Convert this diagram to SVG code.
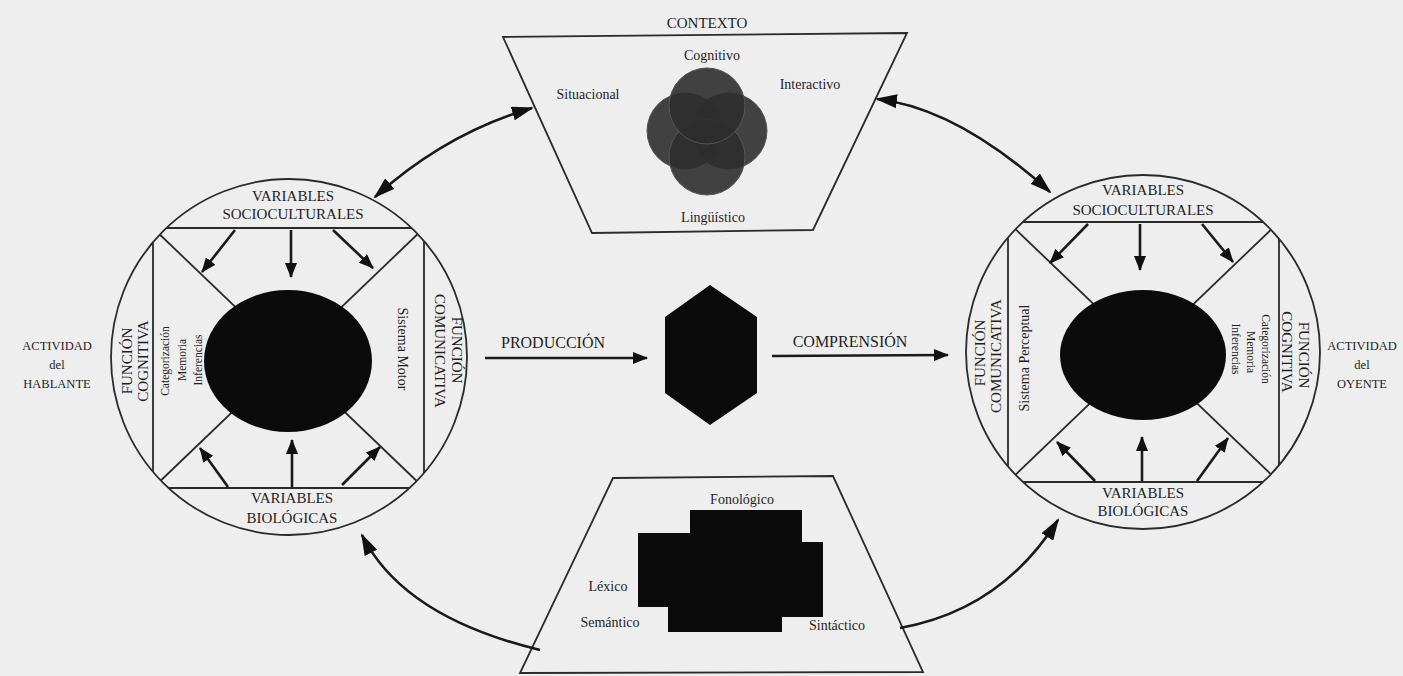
<svg xmlns="http://www.w3.org/2000/svg" width="1403" height="676" viewBox="0 0 1403 676">
<style>
.ln{fill:none;stroke:#2a2a2a;stroke-width:1.8}
.ar{fill:none;stroke:#1a1a1a;stroke-width:2.6}
.t{font-family:"Liberation Serif","Times New Roman",serif;fill:#1e1e1e;text-anchor:middle}
.cap{font-size:15px}
.sm{font-size:11.5px}
.md{font-size:14px}
.act{font-size:12.5px}
.blk{fill:#0b0b0b}
</style>
<defs>
<marker id="big" viewBox="0 0 22 14" refX="20" refY="7" markerWidth="22" markerHeight="14" markerUnits="userSpaceOnUse" orient="auto-start-reverse"><path d="M0,0 L22,7 L0,14 z" fill="#111"/></marker>
<marker id="sm" viewBox="0 0 15 12" refX="14" refY="6" markerWidth="15" markerHeight="12" markerUnits="userSpaceOnUse" orient="auto"><path d="M0,0 L15,6 L0,12 z" fill="#111"/></marker>
<clipPath id="cl"><circle cx="289" cy="357" r="178"/></clipPath>
<clipPath id="cr"><circle cx="1143" cy="352" r="177"/></clipPath>
</defs>
<rect width="1403" height="676" fill="#eeeeee"/>

<g id="contexto">
<polygon class="ln" points="503,37 907,33 813,230 592,233" fill="#f1f1f1"/>
<g fill="#2e2e2e" fill-opacity="0.9" stroke="#555" stroke-width="1">
<circle cx="685" cy="131" r="38"/>
<circle cx="729" cy="131" r="38"/>
<circle cx="707" cy="157" r="38"/>
<circle cx="707" cy="106" r="38"/>
</g>
<text class="t cap" x="707" y="28">CONTEXTO</text>
<text class="t md" x="712" y="60">Cognitivo</text>
<text class="t md" x="588" y="99">Situacional</text>
<text class="t md" x="810" y="89">Interactivo</text>
<text class="t md" x="713" y="222">Lingüístico</text>
</g>

<g id="hablante">
<circle class="ln" cx="289" cy="357" r="178" fill="#f1f1f1"/>
<g clip-path="url(#cl)" class="ln">
<line x1="100" y1="228" x2="480" y2="228"/>
<line x1="100" y1="488" x2="480" y2="488"/>
<line x1="153" y1="170" x2="153" y2="540"/>
<line x1="424" y1="170" x2="424" y2="540"/>
<line x1="153" y1="228" x2="424" y2="488"/>
<line x1="424" y1="228" x2="153" y2="488"/>
</g>
<ellipse class="blk" cx="288" cy="361" rx="84" ry="71"/>
<g class="ar" marker-end="url(#sm)">
<line x1="235" y1="230" x2="202" y2="272"/>
<line x1="291" y1="230" x2="291" y2="277"/>
<line x1="333" y1="230" x2="373" y2="268"/>
<line x1="228" y1="487" x2="200" y2="448"/>
<line x1="292" y1="487" x2="292" y2="440"/>
<line x1="342" y1="485" x2="380" y2="447"/>
</g>
<text class="t cap" x="293" y="201">VARIABLES</text>
<text class="t cap" x="293" y="219">SOCIOCULTURALES</text>
<text class="t cap" x="292" y="503">VARIABLES</text>
<text class="t cap" x="292" y="523">BIOLÓGICAS</text>
<g class="t" dominant-baseline="central">
<text class="cap" transform="translate(127,361) rotate(-90)">FUNCIÓN</text>
<text class="cap" transform="translate(143,361) rotate(-90)">COGNITIVA</text>
<text class="sm" transform="translate(165,361) rotate(-90)">Categorización</text>
<text class="sm" transform="translate(182,360) rotate(-90)">Memoria</text>
<text class="sm" transform="translate(198,360) rotate(-90)">Inferencias</text>
<text class="md" transform="translate(402,349) rotate(90)">Sistema Motor</text>
<text class="cap" transform="translate(457,350) rotate(90)">FUNCIÓN</text>
<text class="cap" transform="translate(440,351) rotate(90)">COMUNICATIVA</text>
</g>
<text class="t act" x="57" y="350">ACTIVIDAD</text>
<text class="t act" x="57" y="369">del</text>
<text class="t act" x="57" y="388">HABLANTE</text>
</g>

<g id="oyente">
<circle class="ln" cx="1143" cy="352" r="177" fill="#f1f1f1"/>
<g clip-path="url(#cr)" class="ln">
<line x1="960" y1="222" x2="1330" y2="222"/>
<line x1="960" y1="482" x2="1330" y2="482"/>
<line x1="1008" y1="170" x2="1008" y2="535"/>
<line x1="1279" y1="170" x2="1279" y2="535"/>
<line x1="1008" y1="222" x2="1279" y2="482"/>
<line x1="1279" y1="222" x2="1008" y2="482"/>
</g>
<ellipse class="blk" cx="1143" cy="355" rx="83" ry="65"/>
<g class="ar" marker-end="url(#sm)">
<line x1="1088" y1="224" x2="1050" y2="263"/>
<line x1="1140" y1="224" x2="1140" y2="270"/>
<line x1="1202" y1="224" x2="1233" y2="262"/>
<line x1="1095" y1="481" x2="1057" y2="442"/>
<line x1="1142" y1="481" x2="1142" y2="437"/>
<line x1="1197" y1="481" x2="1228" y2="438"/>
</g>
<text class="t cap" x="1143" y="195">VARIABLES</text>
<text class="t cap" x="1143" y="215">SOCIOCULTURALES</text>
<text class="t cap" x="1143" y="498">VARIABLES</text>
<text class="t cap" x="1143" y="516">BIOLÓGICAS</text>
<g class="t" dominant-baseline="central">
<text class="cap" transform="translate(980,353) rotate(-90)">FUNCIÓN</text>
<text class="cap" transform="translate(996,356) rotate(-90)">COMUNICATIVA</text>
<text class="md" transform="translate(1024,358) rotate(-90)">Sistema Perceptual</text>
<text class="cap" transform="translate(1304,355) rotate(90)">FUNCIÓN</text>
<text class="cap" transform="translate(1287,352) rotate(90)">COGNITIVA</text>
<text class="sm" transform="translate(1266,349) rotate(90)">Categorización</text>
<text class="sm" transform="translate(1251,352) rotate(90)">Memoria</text>
<text class="sm" transform="translate(1236,349) rotate(90)">Inferencias</text>
</g>
<text class="t act" x="1362" y="350">ACTIVIDAD</text>
<text class="t act" x="1362" y="369">del</text>
<text class="t act" x="1362" y="388">OYENTE</text>
</g>

<g id="mensaje">
<polygon class="blk" points="710,285 757,317 757,393 710,425 665,393 665,317"/>
</g>

<g id="lenguaje">
<polygon class="ln" points="613,478 833,476 923,672 520,673" fill="#f1f1f1"/>
<polygon class="blk" points="690,510 802,510 802,542 823,542 823,617 782,617 782,632 668,632 668,607 638,607 638,533 690,533"/>
<text class="t md" x="742" y="504">Fonológico</text>
<text class="t md" x="608" y="591">Léxico</text>
<text class="t md" x="610" y="627">Semántico</text>
<text class="t md" x="837" y="630">Sintáctico</text>
</g>

<g id="connectors">
<path class="ar" d="M375,197 Q446,133 532,108" marker-start="url(#big)" marker-end="url(#big)"/>
<path class="ar" d="M877,99 Q957,108 1050,192" marker-start="url(#big)" marker-end="url(#big)"/>
<path class="ar" d="M540,650 Q403,617 362,535" marker-end="url(#big)"/>
<path class="ar" d="M900,628 Q1001,610 1058,520" marker-end="url(#big)"/>
<line class="ar" x1="485" y1="358" x2="647" y2="358" marker-end="url(#sm)"/>
<line class="ar" x1="772" y1="356" x2="948" y2="355" marker-end="url(#sm)"/>
<text class="t" style="font-size:16px" x="553" y="348">PRODUCCIÓN</text>
<text class="t" style="font-size:16px" x="850" y="347">COMPRENSIÓN</text>
</g>
</svg>
